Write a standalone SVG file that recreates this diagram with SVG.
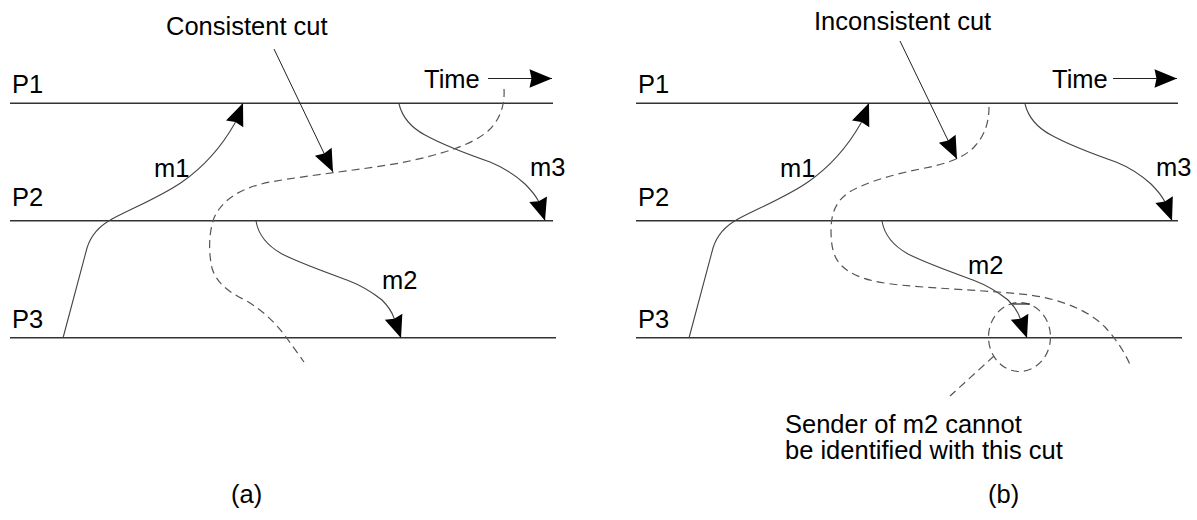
<svg xmlns="http://www.w3.org/2000/svg" width="1197" height="520" viewBox="0 0 1197 520">
<defs>
<style>
text{font-family:"Liberation Sans",Arial,sans-serif;font-size:25.5px;fill:#000}
.proc{stroke:#333;stroke-width:1.4;fill:none}
.msg{stroke:#444;stroke-width:1.1;fill:none;marker-end:url(#ah)}
.ptr{stroke:#222;stroke-width:1;fill:none;marker-end:url(#ah)}
.cut{stroke:#555;stroke-width:1.2;fill:none;stroke-dasharray:8 5}
</style>
<marker id="ah" markerUnits="userSpaceOnUse" markerWidth="26" markerHeight="22" viewBox="-25 -11 26 22" refX="0" refY="0" orient="auto">
<path d="M0,0 L-22.5,-9.3 L-20.5,0 L-22.5,9.3 z" fill="#000"/>
</marker>
</defs>
<rect width="1197" height="520" fill="#fff"/>

<g id="panel-a">
<g id="a-P1"><line class="proc" x1="10" y1="103.3" x2="553" y2="103.3"/><text x="12" y="93">P1</text></g>
<g id="a-P2"><line class="proc" x1="10" y1="220.7" x2="553" y2="220.7"/><text x="12" y="206">P2</text></g>
<g id="a-P3"><line class="proc" x1="10" y1="337.7" x2="556" y2="337.7"/><text x="12" y="328">P3</text></g>
<g id="a-time"><text x="424" y="88">Time</text><line class="ptr" x1="488" y1="78.5" x2="552" y2="78.5"/></g>
<g id="a-cut-label"><text x="166" y="35">Consistent cut</text></g>
<g id="a-labels"><text x="154" y="177">m1</text><text x="382" y="289">m2</text><text x="530" y="175.5">m3</text><text x="231" y="503">(a)</text></g>
</g>

<g id="panel-b">
<g id="b-P1"><line class="proc" x1="636" y1="103.3" x2="1178" y2="103.3"/><text x="638" y="93">P1</text></g>
<g id="b-P2"><line class="proc" x1="636" y1="220.7" x2="1178" y2="220.7"/><text x="638" y="206">P2</text></g>
<g id="b-P3"><line class="proc" x1="636" y1="337.7" x2="1182" y2="337.7"/><text x="638" y="328">P3</text></g>
<g id="b-time"><text x="1052" y="88">Time</text><line class="ptr" x1="1113" y1="78.5" x2="1177" y2="78.5"/></g>
<g id="b-cut-label"><text x="814" y="29.5">Inconsistent cut</text></g>
<g id="b-labels"><text x="780" y="177">m1</text><text x="968" y="274">m2</text><text x="1156" y="175.5">m3</text><text x="988" y="503">(b)</text></g>
<g id="b-note"><ellipse cx="1019.5" cy="337" rx="31" ry="34.5" class="cut" stroke-dasharray="7 5"/><line x1="1013" y1="304" x2="1030" y2="304" stroke="#222" stroke-width="1.2"/><text x="785" y="433">Sender of m2 cannot</text><text x="785" y="459">be identified with this cut</text></g>
</g>

<g id="connectors">
<path class="msg" d="M63,338 L87,248 C91,235 99,226 112,219 C135,207 162,196 182,182 C205,166 222,146 235,123 L243,103"/>
<path class="msg" d="M256,221 C258,233 266,245 282,254 C300,263 325,272 347,280 C360,285 372,292 382,300 C389,307 393,315 394,318 L401,338"/>
<path class="msg" d="M399,104 C402,116 410,127 425,135 C445,146 470,155 490,162 C505,168 515,175 525,184 C532,191 537,198 539,202 L545,220.7"/>
<path class="cut" d="M504,89 C505,105 500,120 488,131 C472,145 440,155 400,163 C360,170 310,175 270,182 C240,188 222,200 214,218 C208,235 209,255 212,268 C216,282 228,292 245,300 C262,310 275,322 286,337 L304,362"/>
<line class="ptr" x1="274" y1="49" x2="333" y2="172"/>

<path class="msg" d="M689,338 L713,248 C717,235 725,226 738,219 C761,207 788,196 808,182 C831,166 848,146 861,123 L869,103"/>
<path class="msg" d="M882,221 C884,233 892,245 908,254 C926,263 951,272 973,280 C986,285 998,292 1008,300 C1015,307 1019,315 1020,318 L1027,338"/>
<path class="msg" d="M1025,104 C1028,116 1036,127 1051,135 C1071,146 1096,155 1116,162 C1131,168 1141,175 1151,184 C1158,191 1163,198 1165,202 L1172,220.7"/>
<path class="cut" d="M989,107 C989,122 985,135 975,146 C965,157 950,163 925,168 C895,174 865,182 848,193 C835,202 831,215 831,230 C831,245 833,258 842,266 C852,276 870,282 900,285 C940,289 985,290 1030,295 C1065,300 1090,312 1105,327 C1115,338 1125,352 1131,367"/>
<line class="ptr" x1="900" y1="41" x2="957" y2="159"/>
<line class="cut" x1="994" y1="356" x2="950" y2="396" stroke-dasharray="7 5"/>
</g>
</svg>
